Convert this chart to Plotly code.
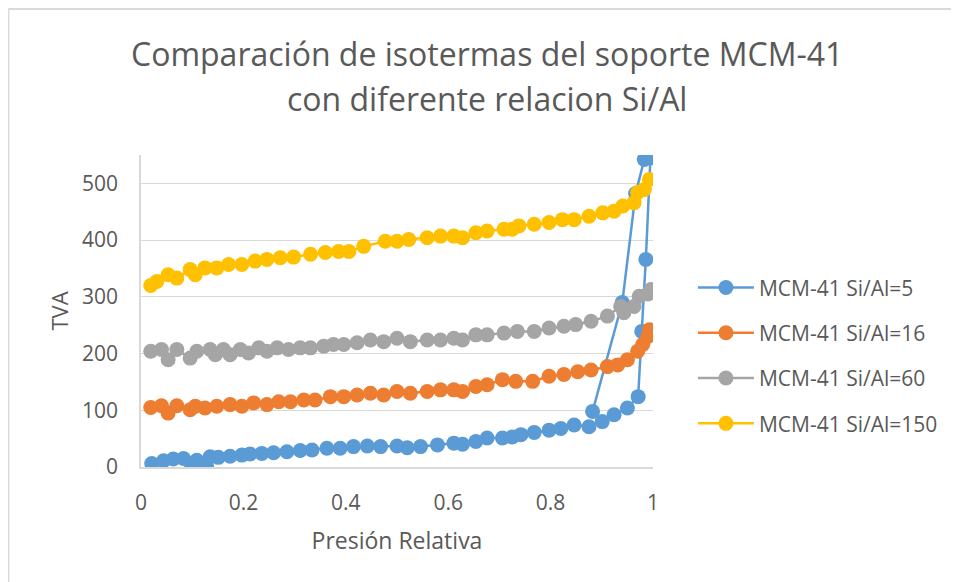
import plotly.graph_objects as go

# ---------------- data ----------------
p_5 = [0.021, 0.044, 0.063, 0.083, 0.099, 0.109, 0.128, 0.135, 0.151, 0.174,
       0.197, 0.213, 0.236, 0.259, 0.285, 0.311, 0.334, 0.363, 0.389, 0.415,
       0.442, 0.468, 0.500, 0.520, 0.546, 0.579, 0.611, 0.628, 0.654, 0.676,
       0.706, 0.725, 0.742, 0.768, 0.797, 0.820, 0.846, 0.875, 0.901, 0.924,
       0.950, 0.971, 0.978, 0.986, 0.995, 0.983, 0.966, 0.940, 0.882]
v_5 = [6, 11, 14, 15, 1, 12, 1, 18, 17, 19,
       21, 23, 24, 25, 27, 29, 30, 33, 33, 36,
       37, 36, 37, 34, 36, 39, 42, 40, 45, 51,
       51, 53, 57, 61, 65, 68, 74, 71, 80, 92,
       104, 124, 239, 366, 545, 542, 482, 290, 98]

p_16 = [0.019, 0.040, 0.053, 0.070, 0.096, 0.106, 0.125, 0.148, 0.174, 0.197,
        0.220, 0.246, 0.269, 0.292, 0.318, 0.340, 0.370, 0.396, 0.422, 0.448,
        0.474, 0.500, 0.526, 0.559, 0.585, 0.611, 0.628, 0.654, 0.676, 0.706,
        0.732, 0.765, 0.797, 0.826, 0.853, 0.879, 0.911, 0.931, 0.950, 0.970,
        0.980, 0.990, 0.993]
v_16 = [105, 108, 95, 108, 101, 107, 104, 107, 110, 107,
        113, 110, 115, 115, 118, 118, 124, 124, 127, 130,
        127, 133, 130, 133, 136, 136, 133, 142, 145, 154,
        151, 151, 160, 163, 168, 171, 177, 180, 189, 204,
        216, 230, 242]

p_60 = [0.019, 0.040, 0.053, 0.070, 0.096, 0.109, 0.135, 0.145, 0.161, 0.174,
        0.194, 0.210, 0.230, 0.246, 0.266, 0.288, 0.311, 0.331, 0.357, 0.376,
        0.396, 0.422, 0.448, 0.474, 0.500, 0.526, 0.559, 0.585, 0.611, 0.628,
        0.654, 0.676, 0.709, 0.735, 0.768, 0.797, 0.826, 0.849, 0.879, 0.911,
        0.937, 0.943, 0.963, 0.973, 0.990, 0.996]
v_60 = [204, 207, 189, 207, 192, 204, 207, 198, 207, 198,
        207, 201, 210, 204, 210, 207, 210, 210, 213, 216,
        216, 219, 224, 221, 227, 221, 224, 224, 227, 224,
        233, 233, 236, 239, 239, 245, 248, 251, 257, 266,
        283, 272, 283, 301, 305, 313]

p_150 = [0.019, 0.031, 0.053, 0.070, 0.096, 0.106, 0.125, 0.148, 0.171, 0.197,
         0.223, 0.246, 0.272, 0.298, 0.331, 0.360, 0.386, 0.406, 0.435, 0.477,
         0.500, 0.523, 0.559, 0.585, 0.611, 0.628, 0.654, 0.676, 0.709, 0.725,
         0.738, 0.768, 0.797, 0.823, 0.846, 0.875, 0.902, 0.924, 0.941, 0.963,
         0.970, 0.983, 0.993]
v_150 = [320, 327, 339, 333, 348, 339, 351, 351, 357, 357,
         363, 366, 369, 370, 375, 378, 380, 380, 389, 398,
         398, 401, 404, 407, 407, 404, 413, 416, 419, 419,
         425, 428, 431, 436, 436, 442, 448, 451, 460, 466,
         484, 489, 507]

names = ["MCM-41 Si/Al=5", "MCM-41 Si/Al=16", "MCM-41 Si/Al=60", "MCM-41 Si/Al=150"]
colors = ["#5B9BD5", "#ED7D31", "#A5A5A5", "#FFC000"]
series = [(p_5, v_5), (p_16, v_16), (p_60, v_60), (p_150, v_150)]

FONT = "Open Sans"
GREY_TXT = "#595959"
GRID = "#D9D9D9"

fig = go.Figure()
for (x, y), name, c in zip(series, names, colors):
    fig.add_trace(go.Scatter(
        x=x, y=y, name=name, mode="lines+markers",
        line=dict(color=c, width=2.5),
        marker=dict(color=c, size=15),
        legendgroup=name,
    ))

# page body adds 8px, so the figure is a bit smaller and margins shifted
fig.update_layout(
    width=951, height=574,
    margin=dict(l=133, r=306, t=147, b=115),
    paper_bgcolor="white", plot_bgcolor="white",
    font=dict(family=FONT, color=GREY_TXT, size=20),
    showlegend=True,
    legend=dict(
        x=1.078, y=0.64, xanchor="left", yanchor="top",
        font=dict(size=21, color=GREY_TXT),
        tracegroupgap=15, itemwidth=56,
    ),
    annotations=[
        dict(text="Comparación de isotermas del soporte MCM-41", xref="paper", yref="paper",
             x=0.676, y=1.324, xanchor="center", yanchor="middle", showarrow=False,
             font=dict(size=32, color=GREY_TXT)),
        dict(text="con diferente relacion Si/Al", xref="paper", yref="paper",
             x=0.676, y=1.181, xanchor="center", yanchor="middle", showarrow=False,
             font=dict(size=32, color=GREY_TXT)),
    ],
    shapes=[
        dict(type="line", xref="paper", yref="paper", x0=-0.259, x1=1.7, y0=1.468, y1=1.468,
             line=dict(color=GRID, width=2)),
        dict(type="line", xref="paper", yref="paper", x0=-0.259, x1=-0.259, y0=1.468, y1=-0.5,
             line=dict(color=GRID, width=2)),
    ],
)

fig.update_xaxes(
    range=[0, 1], dtick=0.2, tickformat="~g",
    showgrid=False, zeroline=False,
    showline=True, linecolor=GRID, linewidth=1.5,
    ticks="", ticklabelstandoff=16,
    tickfont=dict(size=21, color=GREY_TXT),
    title=dict(text="Presión Relativa", font=dict(size=23, color=GREY_TXT), standoff=18),
)
fig.update_yaxes(
    range=[0, 550], dtick=100,
    showgrid=True, gridcolor=GRID, gridwidth=1,
    zeroline=False, showline=True, linecolor=GRID, linewidth=1.5,
    ticks="", ticklabelstandoff=17,
    tickfont=dict(size=21, color=GREY_TXT),
    title=dict(text="TVA", font=dict(size=22, color=GREY_TXT), standoff=7),
)

fig.write_html("out.html")
